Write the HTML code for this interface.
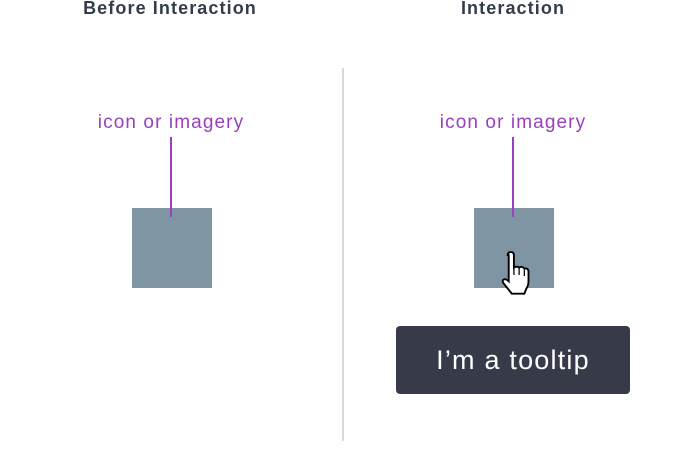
<!DOCTYPE html>
<html><head><style>
body{margin:0;width:684px;height:466px;background:#fff;position:relative;overflow:hidden;font-family:"Liberation Sans",sans-serif}
.t{position:absolute;font-weight:bold;font-size:18px;color:#333d4a;text-align:center;width:300px;top:-3px;line-height:22px;letter-spacing:1.1px}
.l{position:absolute;color:#9a3fbd;font-size:19px;text-align:center;width:200px;top:112px;line-height:22px;letter-spacing:1.1px}
.v{position:absolute;width:2px;background:#9a3fbd;top:137px;height:80px}
.b{position:absolute;width:80px;height:80px;top:208px;background:#7f95a3}
</style></head><body>
<div class="t" style="left:20px">Before Interaction</div>
<div class="t" style="left:363px">Interaction</div>
<div style="position:absolute;left:342px;top:68px;width:2px;height:373px;background:#d8d8e2"></div>
<div class="b" style="left:132px"></div>
<div class="b" style="left:474px"></div>
<div class="l" style="left:71px">icon or imagery</div>
<div class="l" style="left:413px">icon or imagery</div>
<div class="v" style="left:170px"></div>
<div class="v" style="left:512px"></div>
<svg style="position:absolute;left:496px;top:251px" width="40" height="50" viewBox="0 0 36 48">
<path d="M10 4 q0-3 3-3 q3 0 3 3 v12 q3-2 5 0 q3-2 5 1 q3-1 4 2 v10 q0 4-2 7 l-2 5 h-12 l-8-10 q-2-3 1-4 q2 0 4 2 v-25z" fill="#fff" stroke="#000" stroke-width="1.8"/>
<path d="M16 16 v7 M21 16 v7 M26 18 v6" stroke="#000" stroke-width="1.2"/>
</svg>
<div style="position:absolute;left:396px;top:326px;width:234px;height:68px;background:#373a48;border-radius:4px;color:#fff;font-size:27px;letter-spacing:1.2px;text-align:center;line-height:68px">I’m a tooltip</div>
</body></html>
